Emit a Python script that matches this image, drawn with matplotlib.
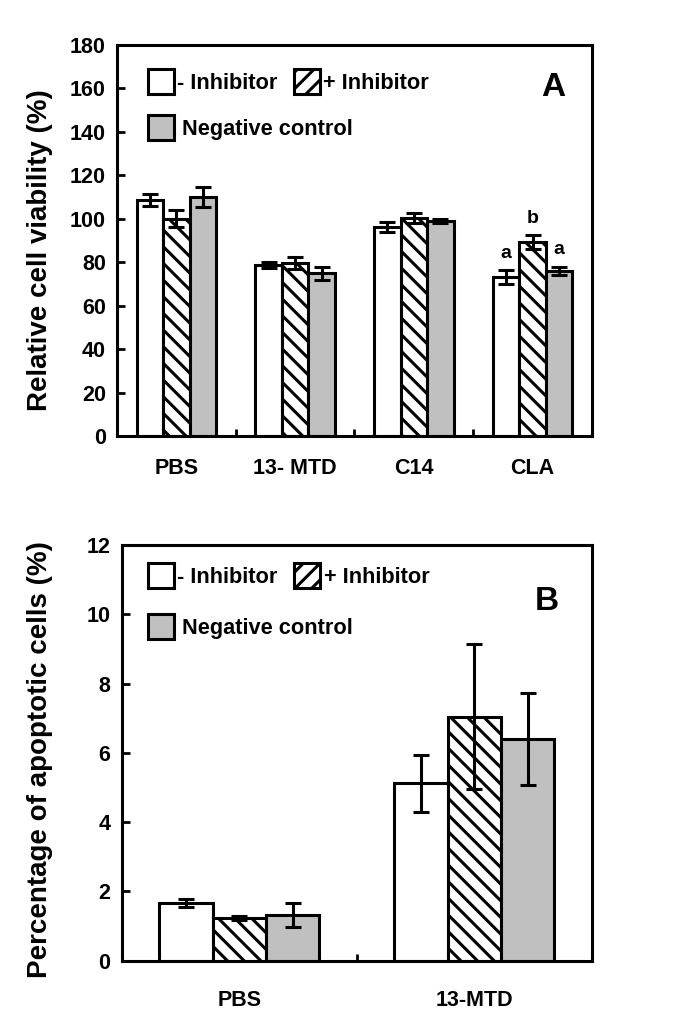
import matplotlib
matplotlib.use("Agg")
import matplotlib.pyplot as plt
from matplotlib.patches import Patch
import numpy as np

plt.rcParams['font.family'] = ['Liberation Sans', 'DejaVu Sans']
plt.rcParams['font.weight'] = 'bold'
plt.rcParams['hatch.linewidth'] = 2.2

# panel A data
cats_a = ["PBS", "13- MTD", "C14", "CLA"]
minus_a = [108.5, 78.6, 96.2, 73.2]
minus_a_err = [2.8, 1.5, 2.3, 3.2]
plus_a = [100.0, 79.8, 100.5, 89.3]
plus_a_err = [3.8, 2.8, 2.3, 3.0]
neg_a = [110.0, 74.9, 99.0, 76.0]
neg_a_err = [4.8, 3.1, 0.8, 2.0]
letters_a = {3: ["a", "b", "a"]}

# panel B data
cats_b = ["PBS", "13-MTD"]
minus_b = [1.67, 5.12]
minus_b_err = [0.11, 0.83]
plus_b = [1.24, 7.04]
plus_b_err = [0.06, 2.09]
neg_b = [1.31, 6.40]
neg_b_err = [0.35, 1.33]


def drawPanel(ax, cats, series, errs, width, ymax, ystep, ylabel, tag, tagpos, legpos,
              xpad=16, letters=None):
     x = np.arange(len(cats))
     styles = [dict(color="white", hatch=None),
               dict(color="white", hatch="\\\\"),
               dict(color="#c0c0c0", hatch=None)]
     for k, (vals, err, st) in enumerate(zip(series, errs, styles)):
          xs = x + (k - 1) * width
          ax.bar(xs, vals, width, color=st["color"], hatch=st["hatch"],
                 edgecolor="black", linewidth=2.2, zorder=2)
          ax.errorbar(xs, vals, yerr=err, fmt="none", ecolor="black",
                      elinewidth=2.2, capsize=6, capthick=2.2, zorder=3)
     if letters:
          for i, labs in letters.items():
               for k, lab in enumerate(labs):
                    top = series[k][i] + errs[k][i]
                    ax.annotate(lab, (x[i] + (k - 1) * width, top), xytext=(0, 6),
                                textcoords="offset points", ha="center", va="bottom",
                                fontsize=14, fontweight="bold")
     ax.set_xlim(-0.5, len(cats) - 0.5)
     ax.set_ylim(0, ymax)
     ax.set_yticks(np.arange(0, ymax + ystep / 2, ystep))
     ax.set_xticks(np.arange(len(cats) - 1) + 0.5)
     ax.set_xticklabels([])
     ax.set_xticks(x, minor=True)
     ax.set_xticklabels(cats, minor=True)
     ax.tick_params(axis="x", which="minor", length=0, pad=xpad, labelsize=15.5)
     ax.tick_params(axis="x", which="major", direction="in", length=5, width=2)
     ax.tick_params(axis="y", direction="in", length=6, width=2, labelsize=15.5, pad=8)
     for s in ax.spines.values():
          s.set_linewidth(2.2)
     ax.set_ylabel(ylabel, fontsize=20, fontweight="bold")
     ax.text(tagpos[0], tagpos[1], tag, transform=ax.transAxes, fontsize=24,
             fontweight="bold", ha="center", va="center")

     # legend: first row two entries, second row one entry
     row1 = [Patch(facecolor="white", edgecolor="black", linewidth=2.2, label="- Inhibitor"),
             Patch(facecolor="white", edgecolor="black", linewidth=2.2, hatch="//", label="+ Inhibitor")]
     row2 = [Patch(facecolor="#c0c0c0", edgecolor="black", linewidth=2.2, label="Negative control")]
     opts = dict(loc="upper left", frameon=False, fontsize=15.7, handlelength=1.2,
                 handleheight=1.4, borderpad=0, borderaxespad=0)
     leg1 = ax.legend(handles=row1, ncol=2, handletextpad=0.15, columnspacing=0.75,
                      bbox_to_anchor=(legpos[0], legpos[1]), **opts)
     ax.add_artist(leg1)
     ax.legend(handles=row2, handletextpad=0.35,
               bbox_to_anchor=(legpos[0], legpos[2]), **opts)


fig = plt.figure(figsize=(6.85, 10.22), dpi=100)
ax_a = fig.add_axes([0.1708, 0.5734, 0.6934, 0.3826])
ax_b = fig.add_axes([0.1777, 0.0600, 0.6865, 0.4067])

drawPanel(ax_a, cats_a, [minus_a, plus_a, neg_a], [minus_a_err, plus_a_err, neg_a_err],
          0.223, 180, 20, "Relative cell viability (%)", "A", (0.918, 0.89),
          (0.065, 0.939, 0.821), xpad=16, letters=letters_a)
drawPanel(ax_b, cats_b, [minus_b, plus_b, neg_b], [minus_b_err, plus_b_err, neg_b_err],
          0.227, 12, 2, "Percentage of apoptotic cells (%)", "B", (0.903, 0.863),
          (0.056, 0.957, 0.834), xpad=21)

ax_a.yaxis.set_label_coords(-0.135, 0.475)
ax_b.yaxis.set_label_coords(-0.146, 0.485)

fig.savefig("out.png", dpi=100)
